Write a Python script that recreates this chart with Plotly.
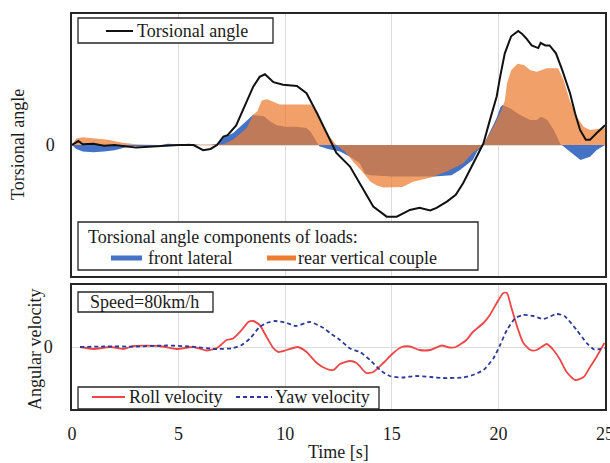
import plotly.graph_objects as go

W, H = 610, 463

# ---------------- data ----------------
t_angle = [0.0, 0.3, 0.5, 1.0, 1.5, 2.0, 3.0, 4.0, 5.0, 5.7, 6.15, 6.5, 6.8, 7.1, 7.3, 7.7,
           8.2, 8.5, 8.8, 9.05, 9.45, 9.9, 10.55, 11.0, 11.5, 11.95, 12.4, 13.04, 13.66,
           14.13, 14.76, 15.23, 15.85, 16.3, 16.8, 17.1, 17.6, 18.0, 18.35, 18.67, 18.98,
           19.3, 19.6, 19.92, 20.08, 20.3, 20.6, 20.93, 21.1, 21.3, 21.56, 21.87, 21.98,
           22.2, 22.4, 22.7, 23.0, 23.36, 23.6, 23.83, 24.1, 24.3, 24.6, 25.0]
torsional_angle = [0.0, 0.3, 0.05, 0.1, -0.05, 0.0, -0.2, -0.1, 0.0, 0.0, -0.4, -0.3, 0.0,
                   0.65, 0.75, 1.5, 3.4, 4.45, 5.2, 5.4, 4.8, 4.6, 4.5, 3.95, 2.4, 0.9, -0.6,
                   -1.65, -3.45, -4.7, -5.47, -5.47, -4.96, -4.8, -5.0, -4.8, -4.3, -3.8, -2.9,
                   -1.9, -0.9, 0.13, 1.9, 3.7, 5.2, 7.0, 8.3, 8.7, 8.5, 8.15, 7.6, 7.4, 7.8,
                   7.6, 7.6, 7.0, 5.7, 3.95, 2.4, 1.15, 0.4, 0.4, 0.9, 1.5]

t_front = [0.0, 0.2, 0.5, 1.0, 1.5, 2.0, 2.5, 3.0, 4.0, 4.5, 5.0, 5.5, 6.0, 6.5, 6.8, 7.1,
           7.55, 7.96, 8.27, 8.5, 9.0, 9.3, 9.6, 10.0, 10.5, 11.0, 11.2, 11.4, 11.6, 12.0,
           12.57, 13.04, 13.5, 13.74, 14.0, 15.0, 16.0, 17.0, 17.8, 18.2, 18.8, 19.0, 19.3,
           19.6, 19.9, 20.1, 20.2, 20.55, 21.0, 21.5, 21.8, 22.0, 22.3, 22.6, 22.9, 23.2,
           23.7, 23.85, 24.3, 24.6, 24.9, 25.0]
front_lateral = [0.0, -0.3, -0.5, -0.55, -0.5, -0.4, -0.2, -0.1, -0.05, 0.1, 0.05, 0.1, 0.0,
                 0.0, 0.1, 0.6, 0.9, 1.5, 1.9, 2.3, 2.2, 1.8, 1.5, 1.4, 1.4, 1.3, 1.0, 0.5,
                 -0.1, -0.3, -0.5, -0.9, -1.4, -2.2, -2.3, -2.4, -2.4, -2.4, -2.3, -1.9,
                 -1.15, -0.5, 0.0, 1.0, 2.0, 2.9, 3.05, 2.8, 2.3, 1.9, 1.9, 2.15, 1.9, 1.15,
                 0.1, -0.3, -0.9, -1.15, -0.9, -0.4, -0.1, 0.0]

t_rear = [0.0, 0.2, 0.5, 1.0, 1.7, 2.3, 3.0, 4.0, 5.0, 6.0, 6.95, 7.1, 7.55, 8.2, 8.5, 8.7,
          8.9, 9.15, 9.75, 11.2, 11.5, 11.8, 12.1, 12.4, 12.8, 13.2, 13.6, 14.0, 14.3, 14.6,
          15.5, 16.0, 16.8, 17.6, 18.35, 18.8, 19.3, 19.8, 20.15, 20.3, 20.4, 20.6, 20.9,
          21.2, 21.5, 21.8, 22.27, 22.8, 23.05, 23.35, 23.67, 24.0, 24.3, 24.9, 25.0]
rear_vertical_couple = [0.0, 0.5, 0.6, 0.5, 0.4, 0.2, 0.05, 0.0, 0.0, 0.0, 0.0, 0.05, 0.4,
                        1.3, 2.3, 2.6, 3.4, 3.5, 3.1, 3.1, 2.4, 1.4, 0.6, 0.0, -0.5, -1.3,
                        -2.0, -2.8, -3.1, -3.25, -3.2, -2.8, -2.5, -2.0, -1.4, -0.6, 0.0, 1.5,
                        2.7, 3.4, 4.7, 5.7, 6.2, 6.1, 5.7, 5.6, 5.85, 5.85, 5.0, 3.4, 2.15,
                        1.4, 1.15, 1.3, 1.3]

t_roll = [0.38, 1.0, 1.8, 2.4, 2.9, 4.1, 4.9, 5.7, 6.3, 6.8, 7.25, 7.56, 7.96, 8.27, 8.5, 8.8,
          9.13, 9.44, 9.68, 10.07, 10.6, 11.0, 11.48, 11.95, 12.26, 12.57, 13.04, 13.35, 13.8,
          14.13, 14.6, 15.07, 15.46, 15.85, 16.3, 16.8, 17.34, 17.7, 18.0, 18.5, 18.8, 19.3,
          19.6, 19.92, 20.23, 20.4, 20.6, 20.93, 21.17, 21.5, 21.8, 22.27, 22.58, 22.9, 23.2,
          23.6, 24.0, 24.3, 24.6, 24.97]
roll_velocity = [0.0, -0.2, 0.0, -0.2, 0.1, 0.1, -0.2, 0.0, -0.35, -0.1, 0.7, 0.85, 1.7, 2.5,
                 2.6, 2.2, 1.0, -0.1, -0.5, -0.3, 0.0, -0.5, -1.6, -2.2, -2.3, -1.7, -1.4,
                 -1.6, -2.6, -2.5, -1.6, -0.6, 0.0, 0.05, -0.3, -0.3, 0.15, -0.05, 0.0, 0.7,
                 1.5, 2.4, 3.2, 4.4, 5.4, 5.4, 4.0, 1.7, 0.4, -0.3, -0.3, 0.3, -0.3, -1.3,
                 -2.5, -3.3, -3.0, -2.0, -1.0, 0.4]

t_yaw = [0.38, 1.5, 3.0, 4.45, 5.5, 6.8, 7.56, 7.96, 8.35, 8.8, 9.13, 9.5, 10.07, 10.5, 11.16,
         11.8, 12.1, 12.57, 13.04, 13.5, 13.98, 14.45, 14.9, 15.5, 16.1, 16.8, 17.4, 18.35,
         18.8, 19.3, 19.76, 20.08, 20.4, 20.8, 21.17, 21.64, 22.1, 22.73, 23.1, 23.67, 24.14,
         24.5, 25.0]
yaw_velocity = [0.0, 0.05, 0.05, 0.15, 0.05, -0.2, -0.1, 0.2, 0.85, 2.0, 2.4, 2.6, 2.4, 2.1,
                2.5, 1.9, 1.4, 0.7, -0.15, -0.5, -1.3, -2.3, -2.9, -3.05, -2.9, -3.0, -3.1,
                -3.05, -2.8, -2.3, -1.15, 0.2, 1.7, 2.9, 3.2, 3.1, 2.8, 3.3, 3.1, 1.7, 0.4,
                -0.25, -0.1]

x_ticks = [0, 5, 10, 15, 20, 25]

# ---------------- figure ----------------
FONT = "Liberation Serif"
BLUE = "#4472C4"
ORANGE = "#ED7D31"
ORANGE_FILL = "rgba(237,125,49,0.73)"
RED = "#EE4646"
NAVY = "#2B3A9A"
FRAME = "#262626"
GRID = "#DCDCDC"
YAW_DASH = "4px,3px"


def px(x):
    return x / W


def py(y):
    return 1 - y / H


fig = go.Figure()

fig.add_trace(go.Scatter(x=t_front, y=front_lateral, mode="lines", line=dict(width=0, color=BLUE),
                         fill="tozeroy", fillcolor=BLUE, xaxis="x", yaxis="y", showlegend=False))
fig.add_trace(go.Scatter(x=t_rear, y=rear_vertical_couple, mode="lines",
                         line=dict(width=0, color=ORANGE), fill="tozeroy", fillcolor=ORANGE_FILL,
                         xaxis="x", yaxis="y", showlegend=False))
fig.add_trace(go.Scatter(x=t_angle, y=torsional_angle, mode="lines",
                         line=dict(width=2, color="#111111"), xaxis="x", yaxis="y",
                         showlegend=False))
fig.add_trace(go.Scatter(x=t_roll, y=roll_velocity, mode="lines",
                         line=dict(width=1.8, color=RED, shape="spline", smoothing=0.6),
                         xaxis="x2", yaxis="y2", showlegend=False))
fig.add_trace(go.Scatter(x=t_yaw, y=yaw_velocity, mode="lines",
                         line=dict(width=1.8, color=NAVY, dash=YAW_DASH, shape="spline",
                                   smoothing=0.6),
                         xaxis="x2", yaxis="y2", showlegend=False))

xdom = [px(72), px(605)]
axis_common = dict(showline=True, mirror=True, linecolor=FRAME, linewidth=1.5,
                   showgrid=True, gridcolor=GRID, gridwidth=1, zeroline=False,
                   automargin=False)

fig.update_layout(
    width=W, height=H, margin=dict(l=0, r=0, t=0, b=0),
    paper_bgcolor="white", plot_bgcolor="white",
    font=dict(family=FONT, size=18, color="#1a1a1a"),
    xaxis=dict(domain=xdom, range=[0, 25], tickvals=x_ticks, showticklabels=False,
               anchor="y", **axis_common),
    yaxis=dict(domain=[py(276), py(14)], range=[-10, 10], tickvals=[0], ticktext=["0"],
               anchor="x", ticklabelstandoff=12, **axis_common),
    xaxis2=dict(domain=xdom, range=[0, 25], tickvals=x_ticks, anchor="y2",
                ticklabelstandoff=8, ticks="", ticklabeloverflow="allow", **axis_common),
    yaxis2=dict(domain=[py(409), py(285)], range=[-6.2, 6.2], tickvals=[0], ticktext=["0"],
                anchor="x2", ticklabelstandoff=14, **axis_common),
)

shapes = []
annos = []

def box(x0, y0, x1, y1):
    shapes.append(dict(type="rect", xref="paper", yref="paper", x0=px(x0), x1=px(x1),
                       y0=py(y1), y1=py(y0), line=dict(color=FRAME, width=1.3),
                       fillcolor="white", layer="above"))

def sample(x0, x1, y, color, width, dash="solid"):
    shapes.append(dict(type="line", xref="paper", yref="paper", x0=px(x0), x1=px(x1),
                       y0=py(y), y1=py(y), line=dict(color=color, width=width, dash=dash),
                       layer="above"))

def text(x, y, s, xanchor="left", angle=0, size=18):
    annos.append(dict(xref="paper", yref="paper", x=px(x), y=py(y), text=s, showarrow=False,
                      xanchor=xanchor, yanchor="middle", textangle=angle,
                      font=dict(family=FONT, size=size, color="#1a1a1a")))

# top-left legend
box(78, 18, 273, 43)
sample(106, 133, 31, "#111111", 2)
text(135, 31, "Torsional angle")

# components legend
box(78, 222, 478, 270)
text(86, 237, "Torsional angle components of loads:")
sample(111, 142, 258, BLUE, 5)
text(146, 258, "front lateral")
sample(267, 296, 258, ORANGE, 5)
text(296, 258, "rear vertical couple")

# speed label
box(78, 292, 213, 312)
text(88, 302, "Speed=80km/h")

# bottom legend
box(78, 387, 379, 409)
sample(92, 125, 397, RED, 1.8)
text(127, 397, "Roll velocity")
sample(236, 272, 397, NAVY, 1.8, YAW_DASH)
text(273, 397, "Yaw velocity")

# axis titles
text(18, 145, "Torsional angle", xanchor="center", angle=-90)
text(35, 350, "Angular velocity", xanchor="center", angle=-90)
text(338, 452, "Time [s]", xanchor="center")

fig.update_layout(shapes=shapes, annotations=annos)
fig.write_html("out.html", config={"displayModeBar": False},
               post_script="document.body.style.margin='0';document.body.style.overflow='hidden';")
